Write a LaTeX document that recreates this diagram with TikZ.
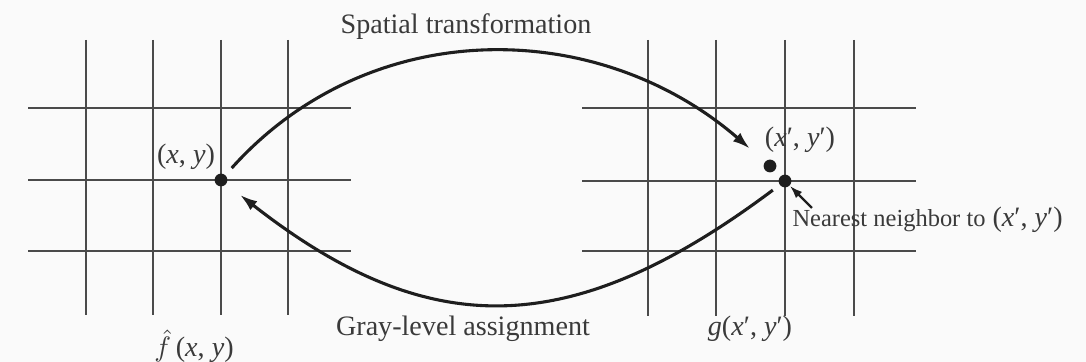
\documentclass[tikz,border=0pt]{standalone}
\usepackage{fontspec}
\setmainfont{Liberation Serif}
\usetikzlibrary{arrows.meta,positioning,calc}
\definecolor{ink}{HTML}{1E1E1E}
\definecolor{gridline}{HTML}{4A4A4A}
\definecolor{paper}{HTML}{FAFAFA}
\definecolor{label}{HTML}{3A3A3A}

\begin{document}
\begin{tikzpicture}[x=0.0125cm,y=-0.0125cm,every node/.style={text=label,inner sep=0pt},
  dot/.style={circle,fill=ink,minimum size=0.16cm,inner sep=0pt},
  gridln/.style={draw=gridline,line width=0.6pt},
  curved/.style={draw=ink,line width=1.1pt,-{Latex[length=2.2mm,width=1.4mm]}}]
\fill[paper] (0,0) rectangle (1086,362);
\useasboundingbox (0,0) rectangle (1086,362);
% input grid
\draw[gridln] (86,40)--(86,315);
\draw[gridln] (153,40)--(153,315);
\draw[gridln] (221,40)--(221,315);
\draw[gridln] (288,40)--(288,315);
\draw[gridln] (28,108)--(351,108);
\draw[gridln] (28,180)--(351,180);
\draw[gridln] (28,251)--(351,251);
% output grid
\draw[gridln] (648,40)--(648,316);
\draw[gridln] (716,40)--(716,316);
\draw[gridln] (785,40)--(785,316);
\draw[gridln] (854,40)--(854,316);
\draw[gridln] (582,108)--(916,108);
\draw[gridln] (582,181)--(916,181);
\draw[gridln] (582,251)--(916,251);
% points
\node[dot] (p) at (221,180) {};
\node[dot] (q) at (770,166) {};
\node[dot] (nn) at (785,181) {};
\coordinate (nntail) at (812,208);
% labels
\node (xy) at (186,157) {(\textit{x}, \textit{y})};
\node (fhat) at (194,346) {$\hat{f}\,$(\textit{x}, \textit{y})};
\node (xyp) at (800,140) {(\textit{x}′, \textit{y}′)};
\node (gxy) at (750,329) {\textit{g}(\textit{x}′, \textit{y}′)};
\node[anchor=west] (nnlbl) at (792,220) {{\fontsize{8.7pt}{10pt}\selectfont Nearest neighbor to} (\textit{x}′, \textit{y}′)};
\node (spatial) at (466,27) {Spatial transformation};
\node (gray) at (463,329) {Gray-level assignment};
% mappings
\draw[curved,shorten <=0.2cm,shorten >=0.33cm] (p.center) .. controls (370,14) and (598,17) .. (q.center);
\draw[curved,shorten <=0.19cm,shorten >=0.3cm] (nn.center) .. controls (570,342) and (428,342) .. (p.center);
\draw[draw=ink,line width=0.8pt,-{Latex[length=1.6mm,width=1.1mm]}] (nntail) -- (nn);
\end{tikzpicture}
\end{document}
